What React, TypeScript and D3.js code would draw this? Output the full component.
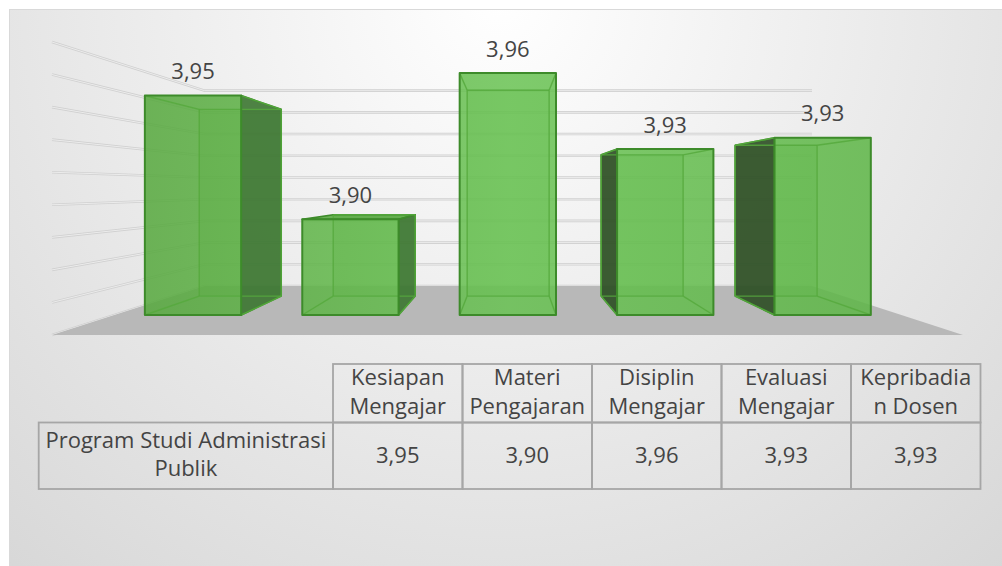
import React, { useRef, useEffect } from 'react';
import * as d3 from 'd3';

const categories = ['Kesiapan Mengajar', 'Materi Pengajaran', 'Disiplin Mengajar', 'Evaluasi Mengajar', 'Kepribadian Dosen'];
// header cells wrap the same way as in the source table
const headerLines = [['Kesiapan', 'Mengajar'], ['Materi', 'Pengajaran'], ['Disiplin', 'Mengajar'], ['Evaluasi', 'Mengajar'], ['Kepribadia', 'n Dosen']];
const values = [3.948, 3.904, 3.956, 3.929, 3.933];
const seriesLabel = ['Program Studi Administrasi', 'Publik'];
const gridTicks = [3.87, 3.88, 3.89, 3.90, 3.91, 3.92, 3.93, 3.94, 3.95, 3.96];

const fmt = (v: number) => v.toFixed(2).replace('.', ',');

const App: React.FC = () => {
    const svgRef = useRef<SVGSVGElement>(null);

    useEffect(() => {
        if (!svgRef.current) return;
        const svg = d3.select(svgRef.current);
        svg.selectAll('*').remove();

        const width = 1002;
        const height = 566;
        const font = '"Open Sans", Roboto, sans-serif';
        const fontSize = 22;
        const textColor = '#444444';

        // front plane of the 3d box, vanishing point and depth of the bars
        const plot = { left: 52, right: 963, floor: 335, top: 42 };
        const vx = 510, vy = 188, persp = 0.5;
        const barFront = 0.315, barBack = 0.72;

        const project = (x: number, y: number, d: number): [number, number] => {
            const s = 1 / (1 + persp * d);
            return [vx + (x - vx) * s, vy + (y - vy) * s];
        };
        const pts = (arr: [number, number][]) => arr.map(p => p.join(',')).join(' ');

        const xScale = d3.scaleBand<string>()
            .domain(categories)
            .range([plot.left, plot.right])
            .paddingInner(0.388)
            .paddingOuter(0.194);
        const yScale = d3.scaleLinear()
            .domain([gridTicks[0], gridTicks[gridTicks.length - 1]])
            .range([plot.floor, plot.top]);

        const defs = svg.append('defs');
        const bg = defs.append('radialGradient').attr('id', 'bg')
            .attr('gradientUnits', 'userSpaceOnUse')
            .attr('cx', 500).attr('cy', 0).attr('r', 820);
        bg.append('stop').attr('offset', '0%').attr('stop-color', '#ffffff');
        bg.append('stop').attr('offset', '100%').attr('stop-color', '#d4d4d4');

        const face = defs.append('linearGradient').attr('id', 'barFace')
            .attr('gradientUnits', 'userSpaceOnUse')
            .attr('x1', 100).attr('x2', 920).attr('y1', 0).attr('y2', 0);
        face.append('stop').attr('offset', '0%').attr('stop-color', '#54a53b');
        face.append('stop').attr('offset', '50%').attr('stop-color', '#6ac354');
        face.append('stop').attr('offset', '100%').attr('stop-color', '#5cb445');

        // chart area
        svg.append('rect')
            .attr('x', 9.5).attr('y', 9.5)
            .attr('width', width).attr('height', height)
            .attr('fill', 'url(#bg)')
            .attr('stroke', '#d9d9d9');

        // gridlines on side wall and back wall
        const gridG = svg.append('g');
        gridTicks.forEach(t => {
            const y = yScale(t);
            const line = pts([project(plot.left, y, 0), project(plot.left, y, 1), project(plot.right, y, 1)]);
            gridG.append('polyline').attr('points', line)
                .attr('fill', 'none').attr('stroke', '#d0d0d0').attr('stroke-width', 2.6);
            gridG.append('polyline').attr('points', line)
                .attr('fill', 'none').attr('stroke', '#f3f3f3').attr('stroke-width', 0.8);
        });

        // floor
        const floorY = yScale(gridTicks[0]);
        svg.append('polygon')
            .attr('points', pts([
                project(plot.left, floorY, 0), project(plot.right, floorY, 0),
                project(plot.right, floorY, 1), project(plot.left, floorY, 1)
            ]))
            .attr('fill', '#b8b8b8');

        // bars
        const barG = svg.append('g');
        const edge = '#3d8b2a';
        const inner = '#56a93d';
        categories.forEach((cat, i) => {
            const x0 = xScale(cat) as number;
            const x1 = x0 + xScale.bandwidth();
            const yT = yScale(values[i]);
            const yB = floorY;
            const f = {
                tl: project(x0, yT, barFront), tr: project(x1, yT, barFront),
                bl: project(x0, yB, barFront), br: project(x1, yB, barFront)
            };
            const b = {
                tl: project(x0, yT, barBack), tr: project(x1, yT, barBack),
                bl: project(x0, yB, barBack), br: project(x1, yB, barBack)
            };
            const g = barG.append('g');

            const rightSide = x1 < vx;
            const leftSide = x0 > vx;
            const topVisible = yT > vy;

            // faces further away, seen through the glass
            g.append('polygon').attr('points', pts([b.tl, b.tr, b.br, b.bl]))
                .attr('fill', '#5aaa42').attr('fill-opacity', 0.3);

            if (topVisible) {
                g.append('polygon').attr('points', pts([f.tl, f.tr, b.tr, b.tl]))
                    .attr('fill', '#5aa843').attr('fill-opacity', 0.9)
                    .attr('stroke', edge).attr('stroke-width', 1.6).attr('stroke-linejoin', 'round');
            }
            if (rightSide) {
                g.append('polygon').attr('points', pts([f.tr, b.tr, b.br, f.br]))
                    .attr('fill', '#3c7631').attr('fill-opacity', 0.9)
                    .attr('stroke', edge).attr('stroke-width', 1.6).attr('stroke-linejoin', 'round');
            }
            if (leftSide) {
                g.append('polygon').attr('points', pts([f.tl, b.tl, b.bl, f.bl]))
                    .attr('fill', '#2c4d23').attr('fill-opacity', 0.9)
                    .attr('stroke', edge).attr('stroke-width', 1.6).attr('stroke-linejoin', 'round');
            }

            g.append('polygon').attr('points', pts([f.tl, f.tr, f.br, f.bl]))
                .attr('fill', 'url(#barFace)').attr('fill-opacity', 0.86);

            // hidden edges
            const hidden: [number, number][][] = [
                [b.tl, b.tr], [b.tr, b.br], [b.br, b.bl], [b.bl, b.tl],
                [f.bl, b.bl], [f.br, b.br]
            ];
            if (!topVisible) hidden.push([f.tl, b.tl], [f.tr, b.tr]);
            hidden.forEach(seg => {
                g.append('line')
                    .attr('x1', seg[0][0]).attr('y1', seg[0][1])
                    .attr('x2', seg[1][0]).attr('y2', seg[1][1])
                    .attr('stroke', inner).attr('stroke-width', 1.4).attr('stroke-opacity', 0.85);
            });

            g.append('polygon').attr('points', pts([f.tl, f.tr, f.br, f.bl]))
                .attr('fill', 'none')
                .attr('stroke', edge).attr('stroke-width', 2).attr('stroke-linejoin', 'round');

            // data label
            const [lx, ly] = project((x0 + x1) / 2, yT, barFront);
            g.append('text')
                .attr('x', lx).attr('y', ly - 16.5)
                .attr('text-anchor', 'middle')
                .attr('font-family', font).attr('font-size', fontSize)
                .attr('fill', textColor)
                .text(fmt(values[i]));
        });

        // data table
        const colScale = d3.scaleBand<string>().domain(categories).range([333, 980.5]);
        const rowTop = 364, rowMid = 422.5, rowBot = 489;
        const labelLeft = 38.7;
        const tableG = svg.append('g')
            .attr('font-family', font).attr('font-size', fontSize).attr('fill', textColor);
        const border = '#a6a6a6';

        categories.forEach((cat, i) => {
            const cx = colScale(cat) as number;
            tableG.append('rect')
                .attr('x', cx).attr('y', rowTop)
                .attr('width', colScale.bandwidth()).attr('height', rowMid - rowTop)
                .attr('fill', 'none').attr('stroke', border).attr('stroke-width', 1.8);
            tableG.append('rect')
                .attr('x', cx).attr('y', rowMid)
                .attr('width', colScale.bandwidth()).attr('height', rowBot - rowMid)
                .attr('fill', 'none').attr('stroke', border).attr('stroke-width', 1.8);
            headerLines[i].forEach((ln, j) => {
                tableG.append('text')
                    .attr('x', cx + colScale.bandwidth() / 2)
                    .attr('y', 384.5 + j * 29)
                    .attr('text-anchor', 'middle')
                    .text(ln);
            });
            tableG.append('text')
                .attr('x', cx + colScale.bandwidth() / 2)
                .attr('y', 462.5)
                .attr('text-anchor', 'middle')
                .text(fmt(values[i]));
        });

        tableG.append('rect')
            .attr('x', labelLeft).attr('y', rowMid)
            .attr('width', 333 - labelLeft).attr('height', rowBot - rowMid)
            .attr('fill', 'none').attr('stroke', border).attr('stroke-width', 1.8);
        seriesLabel.forEach((ln, j) => {
            tableG.append('text')
                .attr('x', (labelLeft + 333) / 2)
                .attr('y', 448 + j * 27.5)
                .attr('text-anchor', 'middle')
                .text(ln);
        });
    }, []);

    return (
        <svg
            ref={svgRef}
            width={1002}
            height={566}
            style={{ position: 'absolute', left: 0, top: 0, background: '#ffffff' }}
        />
    );
};

export default App;
